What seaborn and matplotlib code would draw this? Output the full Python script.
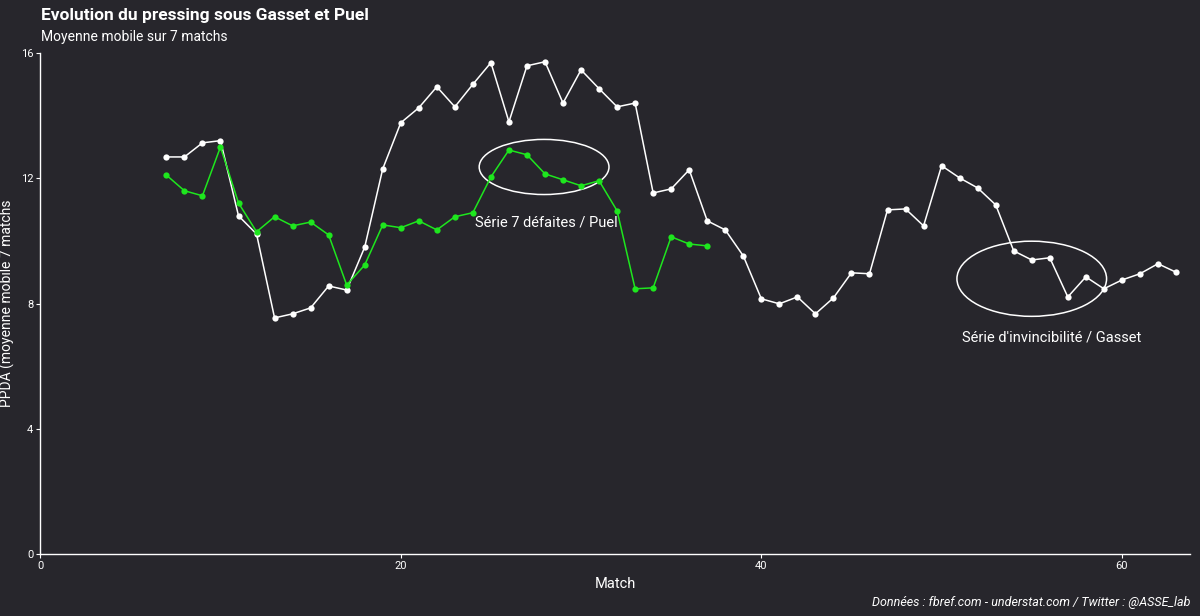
import matplotlib
matplotlib.use("Agg")
import matplotlib.pyplot as plt
import seaborn as sns
import pandas as pd
from matplotlib.patches import Ellipse

gasset_match = list(range(7, 64))
gasset_ppda = [12.68, 12.68, 13.13, 13.2, 10.8, 10.22, 7.54, 7.67, 7.86, 8.56, 8.43, 9.8, 12.3,
               13.77, 14.25, 14.92, 14.28, 15.0, 15.69, 13.8, 15.59, 15.72, 14.4, 15.46, 14.86,
               14.28, 14.4, 11.53, 11.66, 12.27, 10.64, 10.35, 9.52, 8.15, 7.99, 8.21, 7.67,
               8.18, 8.98, 8.95, 10.99, 11.02, 10.48, 12.4, 12.01, 11.69, 11.15, 9.68, 9.39,
               9.46, 8.21, 8.85, 8.47, 8.75, 8.95, 9.27, 9.0]
puel_match = list(range(7, 38))
puel_ppda = [12.1, 11.6, 11.44, 13.0, 11.21, 10.29, 10.77, 10.48, 10.6, 10.19, 8.59, 9.23,
             10.51, 10.42, 10.64, 10.35, 10.77, 10.9, 12.04, 12.9, 12.75, 12.14, 11.95, 11.76,
             11.92, 10.96, 8.47, 8.5, 10.13, 9.9, 9.84]

sns.set_theme(style="dark")
plt.rcParams['font.family'] = ['Liberation Sans Narrow', 'Roboto', 'DejaVu Sans']
bg = "#27262c"
fig = plt.figure(figsize=(12, 6.16), dpi=100, facecolor=bg)
ax = fig.add_axes([0.0335, 0.1006, 0.9585, 0.8134])
ax.set_facecolor(bg)

dg = pd.DataFrame({"Match": gasset_match, "PPDA": gasset_ppda})
dp = pd.DataFrame({"Match": puel_match, "PPDA": puel_ppda})
sns.lineplot(data=dg, x="Match", y="PPDA", ax=ax, color="white", lw=1.1,
             marker="o", markersize=4.5, markeredgewidth=0)
sns.lineplot(data=dp, x="Match", y="PPDA", ax=ax, color="#1ee61e", lw=1.1,
             marker="o", markersize=4.5, markeredgewidth=0)

ax.add_patch(Ellipse((27.95, 12.36), 7.2, 1.76, fill=False, ec="white", lw=1.1))
ax.add_patch(Ellipse((55.0, 8.79), 8.3, 2.4, fill=False, ec="white", lw=1.1))
ax.text(28.1, 10.6, "Série 7 défaites / Puel", color="white", fontsize=10.5, ha="center", va="center")
ax.text(56.1, 6.93, "Série d'invincibilité / Gasset", color="white", fontsize=10.5, ha="center", va="center")

ax.set_xlim(0, 63.8)
ax.set_ylim(0, 16)
ax.set_xticks([0, 20, 40, 60])
ax.set_yticks([0, 4, 8, 12, 16])
ax.grid(False)
for s in ["top", "right"]:
    ax.spines[s].set_visible(False)
for s in ["left", "bottom"]:
    ax.spines[s].set_visible(True)
    ax.spines[s].set_color("white")
    ax.spines[s].set_linewidth(1)
ax.tick_params(colors="white", labelsize=8, length=3, bottom=True, left=True, width=0.8, pad=2)
ax.set_xlabel("Match", color="white", fontsize=10.5, labelpad=4)
ax.set_ylabel("PPDA (moyenne mobile 7 matchs", color="white", fontsize=10, labelpad=4)

fig.text(0.034, 0.975, "Evolution du pressing sous Gasset et Puel", color="white", fontsize=12.5,
         fontweight="bold", va="center")
fig.text(0.034, 0.94, "Moyenne mobile sur 7 matchs", color="white", fontsize=10, va="center")
fig.text(0.992, 0.022, "Données : fbref.com - understat.com / Twitter : @ASSE_lab", color="white",
         fontsize=9, ha="right", va="center", style="italic")
fig.savefig("out.png", dpi=100, facecolor=bg)
